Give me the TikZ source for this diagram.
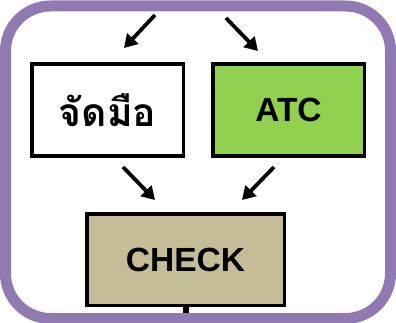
\documentclass[tikz,border=0pt]{standalone}
\usepackage{fontspec}
\setmainfont{Liberation Sans}
\newfontfamily\thaifont[Script=Thai]{Loma}
\usetikzlibrary{arrows.meta}
\definecolor{framepurple}{RGB}{145,121,178}
\definecolor{atcgreen}{RGB}{146,208,80}
\definecolor{checktan}{RGB}{196,189,151}
\tikzset{
  box/.style={draw=black, line width=3.5pt, minimum width=151.5pt, minimum height=92pt, inner sep=0pt, font=\fontsize{33.5}{36}\selectfont\bfseries},
  flow/.style={line width=3.8pt, -{Triangle[length=13pt,width=15pt]}},
  frame/.style={draw=framepurple, line width=11pt, rounded corners=45pt}
}
\begin{document}
\begin{tikzpicture}[x=1pt,y=-1pt]
\useasboundingbox (0,0) rectangle (396,323);
\node[box, fill=white, font=\fontsize{39}{42}\selectfont\thaifont\bfseries] (jad) at (107.5,110) {จัดมือ};
\node[box, fill=atcgreen] (atc) at (288.5,110) {ATC};
\node[box, fill=checktan, minimum width=197.5pt, minimum height=91.5pt] (check) at (185.5,259.5) {CHECK};
\coordinate (t1) at (155,15);
\coordinate (t1e) at (124,48);
\coordinate (t2) at (226,18);
\coordinate (t2e) at (258,51);
\coordinate (b1) at (123,167);
\coordinate (b1e) at (155,200);
\coordinate (b2) at (274,167);
\coordinate (b2e) at (242,200);
\coordinate (down) at (185.5,320);
\draw[flow] (t1) -- (t1e);
\draw[flow] (t2) -- (t2e);
\draw[flow] (b1) -- (b1e);
\draw[flow] (b2) -- (b2e);
\draw[line width=6pt] (check.south) -- (down);
\draw[frame] (5.5,6) rectangle (390.5,318.5);
\end{tikzpicture}
\end{document}
